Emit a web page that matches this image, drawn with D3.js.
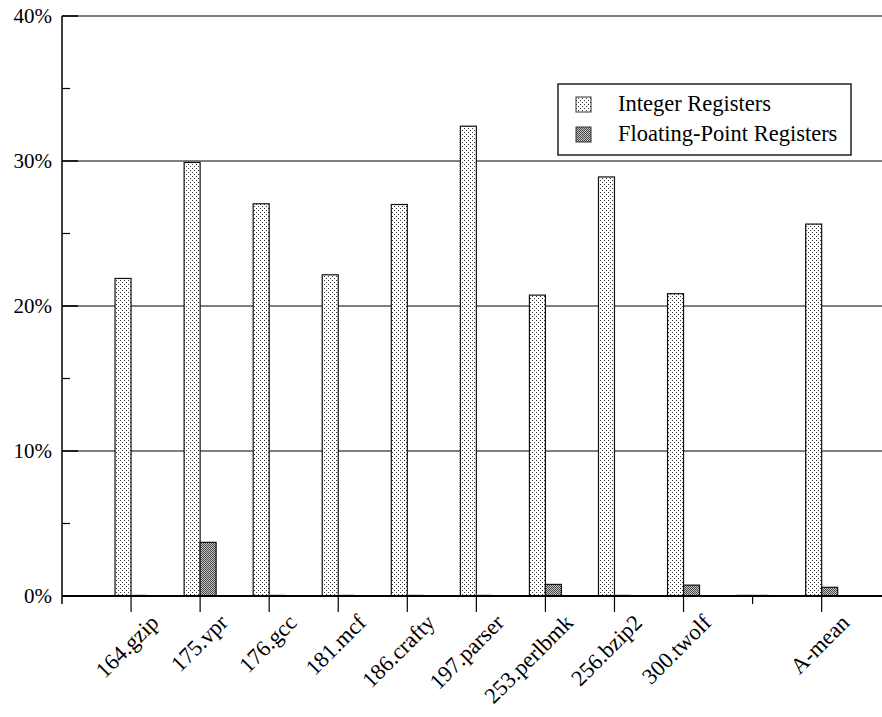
<!DOCTYPE html>
<html>
<head>
<meta charset="utf-8">
<script src="https://cdn.jsdelivr.net/npm/d3@7"></script>
<style>
  html, body { margin: 0; padding: 0; background: #fff; }
  svg { display: block; }
  text { font-family: "Liberation Serif", "Times New Roman", serif; fill: #000; }
</style>
</head>
<body>
<svg id="chart" width="882" height="717"></svg>
<script>
// ---- data ----
const categories = ["164.gzip", "175.vpr", "176.gcc", "181.mcf", "186.crafty", "197.parser",
                    "253.perlbmk", "256.bzip2", "300.twolf", "", "A-mean"];
const integerRegisters = [21.9, 29.9, 27.05, 22.15, 27.0, 32.4, 20.75, 28.9, 20.85, 0, 25.65];
const floatingPointRegisters = [0, 3.7, 0, 0, 0, 0, 0.8, 0, 0.75, 0, 0.6];
const seriesNames = ["Integer Registers", "Floating-Point Registers"];
const yMajorTicks = [0, 10, 20, 30, 40];
const yMinorTicks = [5, 15, 25, 35];

(function () {
// ---- layout ----
const svg = d3.select("#chart");
const pLeft = 62, pTop = 16, pBottom = 596, pRight = 882;
const slot = 69.06;
const barW = 16;

const x = d3.scaleLinear().domain([0, 12]).range([pLeft, pLeft + slot * 12]);
const y = d3.scaleLinear().domain([0, 40]).range([pBottom, pTop]);

// patterns
const defs = svg.append("defs");
const p1 = defs.append("pattern").attr("id", "dotsLight").attr("patternUnits", "userSpaceOnUse")
  .attr("width", 4).attr("height", 4);
p1.append("rect").attr("width", 4).attr("height", 4).attr("fill", "#fff");
p1.append("rect").attr("x", 0).attr("y", 0).attr("width", 1).attr("height", 1).attr("fill", "#333");
p1.append("rect").attr("x", 2).attr("y", 2).attr("width", 1).attr("height", 1).attr("fill", "#333");

const p2 = defs.append("pattern").attr("id", "dotsDark").attr("patternUnits", "userSpaceOnUse")
  .attr("width", 2).attr("height", 2);
p2.append("rect").attr("width", 2).attr("height", 2).attr("fill", "#c8c8c8");
p2.append("rect").attr("x", 0).attr("y", 0).attr("width", 1).attr("height", 1).attr("fill", "#444");
p2.append("rect").attr("x", 1).attr("y", 1).attr("width", 1).attr("height", 1).attr("fill", "#444");

const fills = ["url(#dotsLight)", "url(#dotsDark)"];

// gridlines (major, gray)
svg.append("g").selectAll("line").data(yMajorTicks.filter(d => d > 0)).join("line")
  .attr("x1", pLeft).attr("x2", pRight)
  .attr("y1", d => y(d)).attr("y2", d => y(d))
  .attr("stroke", "#555").attr("stroke-width", 1.5);

// y axis
const yAxis = d3.axisLeft(y).tickValues(yMajorTicks).tickSize(0).tickPadding(10)
  .tickFormat(d => d + "%");
const yg = svg.append("g").attr("transform", `translate(${pLeft},0)`).call(yAxis);
yg.select(".domain").remove();
yg.selectAll("text").attr("font-size", 21).attr("font-family", "Liberation Serif").attr("fill", "#000");
// major ticks (dark, drawn inward)
svg.append("g").selectAll("line").data(yMajorTicks).join("line")
  .attr("x1", pLeft).attr("x2", pLeft + 16)
  .attr("y1", d => y(d)).attr("y2", d => y(d))
  .attr("stroke", "#000").attr("stroke-width", 1.5);
// minor ticks
svg.append("g").selectAll("line").data(yMinorTicks).join("line")
  .attr("x1", pLeft).attr("x2", pLeft + 8)
  .attr("y1", d => y(d)).attr("y2", d => y(d))
  .attr("stroke", "#000").attr("stroke-width", 1.2);
// y axis line
svg.append("line").attr("x1", pLeft).attr("x2", pLeft).attr("y1", pTop).attr("y2", pBottom + 8)
  .attr("stroke", "#000").attr("stroke-width", 1.5);

// bars
const series = [integerRegisters, floatingPointRegisters];
series.forEach((vals, s) => {
  const g = svg.append("g");
  vals.forEach((v, i) => {
    const cx = x(i + 1);
    const x0 = s === 0 ? cx - barW : cx;
    if (v > 0) {
      g.append("rect")
        .attr("x", x0).attr("y", y(v))
        .attr("width", barW).attr("height", y(0) - y(v))
        .attr("fill", fills[s]).attr("stroke", "#111").attr("stroke-width", 1.2);
    } else {
      g.append("line")
        .attr("x1", x0).attr("x2", x0 + barW)
        .attr("y1", y(0) - 1).attr("y2", y(0) - 1)
        .attr("stroke", "#bbb").attr("stroke-width", 1.2);
    }
  });
});

// x axis baseline
svg.append("line").attr("x1", pLeft).attr("x2", pRight).attr("y1", pBottom).attr("y2", pBottom)
  .attr("stroke", "#000").attr("stroke-width", 2);

// x ticks and labels
const xg = svg.append("g");
categories.forEach((c, i) => {
  const cx = x(i + 1);
  xg.append("line").attr("x1", cx).attr("x2", cx)
    .attr("y1", pBottom).attr("y2", pBottom + (c === "" ? 8 : 16))
    .attr("stroke", "#000").attr("stroke-width", 1.2);
  if (c !== "") {
    xg.append("text")
      .attr("transform", `translate(${cx + 29},${pBottom + 28}) rotate(-45)`)
      .attr("text-anchor", "end")
      .attr("font-size", 22.5)
      .text(c);
  }
});

// legend
const lg = svg.append("g");
lg.append("rect").attr("x", 558).attr("y", 84).attr("width", 293).attr("height", 71)
  .attr("fill", "#fff").attr("stroke", "#222").attr("stroke-width", 1.5);
seriesNames.forEach((n, k) => {
  const yy = 97 + k * 30;
  lg.append("rect").attr("x", 576).attr("y", yy).attr("width", 15).attr("height", 15)
    .attr("fill", fills[k]).attr("stroke", "#333").attr("stroke-width", 1);
  lg.append("text").attr("x", 618).attr("y", yy + 14).attr("font-size", 22.5).text(n);
});
})();
</script>
</body>
</html>
